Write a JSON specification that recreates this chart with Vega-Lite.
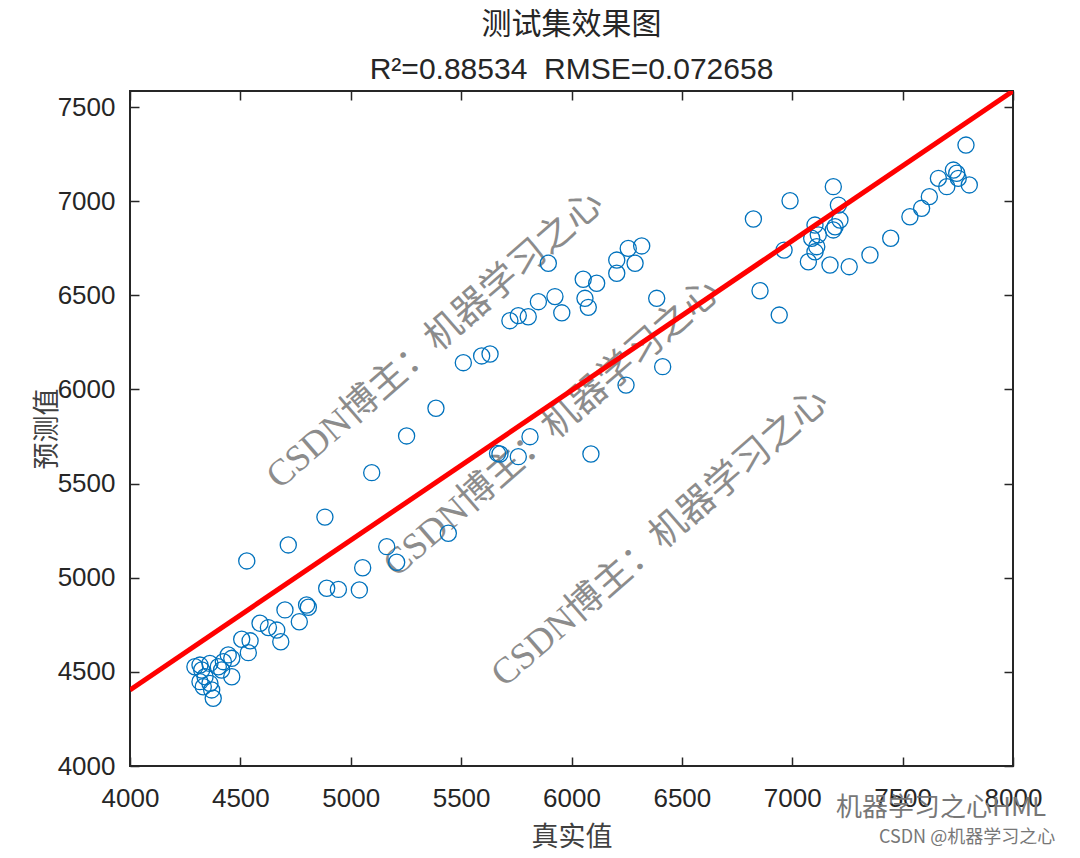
{
  "$schema": "https://vega.github.io/schema/vega-lite/v6.json",
  "width": 883,
  "height": 675,
  "autosize": {"type": "none"},
  "padding": {"left": 130, "top": 91, "right": 67, "bottom": 92},
  "background": "white",
  "title": {
    "text": "测试集效果图",
    "subtitle": "R²=0.88534\u00a0\u00a0RMSE=0.072658",
    "font": "Noto Sans CJK SC",
    "fontSize": 30,
    "fontWeight": "normal",
    "color": "#262626",
    "subtitleFont": "Liberation Sans",
    "subtitleFontSize": 30,
    "subtitleColor": "#262626",
    "subtitlePadding": 15,
    "offset": 5,
    "anchor": "middle"
  },
  "config": {
    "view": {"stroke": "#262626", "strokeWidth": 2},
    "axis": {
      "domain": false,
      "grid": false,
      "ticks": true,
      "tickSize": 9,
      "offset": -9,
      "tickWidth": 1.5,
      "tickColor": "#262626",
      "labelFlush": false,
      "labelOverlap": false,
      "labelFont": "Liberation Sans",
      "labelFontSize": 26,
      "labelColor": "#262626",
      "titleFont": "Noto Sans CJK SC",
      "titleFontSize": 27,
      "titleFontWeight": "normal",
      "titleColor": "#404040"
    }
  },
  "datasets": {
    "points": [
      {"actual": 7787, "pred": 7298}, {"actual": 7730, "pred": 7165}, {"actual": 7745, "pred": 7148},
      {"actual": 7752, "pred": 7121}, {"actual": 7662, "pred": 7121}, {"actual": 7700, "pred": 7077},
      {"actual": 7802, "pred": 7086}, {"actual": 7621, "pred": 7024}, {"actual": 7586, "pred": 6962},
      {"actual": 7533, "pred": 6917}, {"actual": 7446, "pred": 6803}, {"actual": 7352, "pred": 6714},
      {"actual": 7258, "pred": 6652}, {"actual": 7171, "pred": 6661}, {"actual": 7073, "pred": 6678},
      {"actual": 7103, "pred": 6731}, {"actual": 7111, "pred": 6758}, {"actual": 7088, "pred": 6803},
      {"actual": 7118, "pred": 6821}, {"actual": 7103, "pred": 6873}, {"actual": 7186, "pred": 6847},
      {"actual": 7194, "pred": 6864}, {"actual": 7216, "pred": 6900}, {"actual": 7209, "pred": 6979},
      {"actual": 7186, "pred": 7077}, {"actual": 6990, "pred": 7002}, {"actual": 6824, "pred": 6905},
      {"actual": 6963, "pred": 6740}, {"actual": 6854, "pred": 6524}, {"actual": 6941, "pred": 6395},
      {"actual": 5895, "pred": 6670}, {"actual": 6318, "pred": 6762}, {"actual": 6257, "pred": 6749},
      {"actual": 6205, "pred": 6687}, {"actual": 6288, "pred": 6670}, {"actual": 6053, "pred": 6585},
      {"actual": 6114, "pred": 6564}, {"actual": 6205, "pred": 6617}, {"actual": 5850, "pred": 6466},
      {"actual": 5925, "pred": 6493}, {"actual": 5956, "pred": 6407}, {"actual": 6061, "pred": 6484},
      {"actual": 6076, "pred": 6436}, {"actual": 5721, "pred": 6365}, {"actual": 5759, "pred": 6392},
      {"actual": 5804, "pred": 6386}, {"actual": 5510, "pred": 6142}, {"actual": 5593, "pred": 6178},
      {"actual": 5631, "pred": 6188}, {"actual": 5386, "pred": 5900}, {"actual": 5253, "pred": 5753},
      {"actual": 5095, "pred": 5558}, {"actual": 6386, "pred": 6484}, {"actual": 6413, "pred": 6121},
      {"actual": 6247, "pred": 6023}, {"actual": 5812, "pred": 5749}, {"actual": 5676, "pred": 5657},
      {"actual": 5665, "pred": 5660}, {"actual": 5759, "pred": 5643}, {"actual": 6088, "pred": 5657},
      {"actual": 5442, "pred": 5236},
      {"actual": 4529, "pred": 5089}, {"actual": 4717, "pred": 5174}, {"actual": 4883, "pred": 5322},
      {"actual": 5163, "pred": 5165}, {"actual": 5208, "pred": 5082}, {"actual": 5054, "pred": 5053},
      {"actual": 4891, "pred": 4944}, {"actual": 4944, "pred": 4938}, {"actual": 5039, "pred": 4935},
      {"actual": 4702, "pred": 4829}, {"actual": 4800, "pred": 4855}, {"actual": 4808, "pred": 4843},
      {"actual": 4767, "pred": 4766}, {"actual": 4589, "pred": 4758}, {"actual": 4627, "pred": 4735},
      {"actual": 4665, "pred": 4722}, {"actual": 4683, "pred": 4660}, {"actual": 4506, "pred": 4673},
      {"actual": 4544, "pred": 4665}, {"actual": 4536, "pred": 4602}, {"actual": 4445, "pred": 4590},
      {"actual": 4461, "pred": 4572}, {"actual": 4423, "pred": 4554}, {"actual": 4415, "pred": 4510},
      {"actual": 4400, "pred": 4527}, {"actual": 4362, "pred": 4545}, {"actual": 4317, "pred": 4536},
      {"actual": 4325, "pred": 4510}, {"actual": 4294, "pred": 4527}, {"actual": 4340, "pred": 4474},
      {"actual": 4317, "pred": 4448}, {"actual": 4362, "pred": 4439}, {"actual": 4332, "pred": 4421},
      {"actual": 4370, "pred": 4404}, {"actual": 4377, "pred": 4360}, {"actual": 4461, "pred": 4474}
    ],
    "fit": [{"actual": 4000, "pred": 4404}, {"actual": 8000, "pred": 7585}],
    "watermarks": [
      {"actual": 5382, "pred": 6262, "label": "CSDN博主：机器学习之心"},
      {"actual": 5912, "pred": 5795, "label": "CSDN博主：机器学习之心"},
      {"actual": 6401, "pred": 5211, "label": "CSDN博主：机器学习之心"}
    ],
    "credits": [
      {"actual": 7674, "pred": 3777, "label": "机器学习之心HML", "size": 26},
      {"actual": 7792, "pred": 3618, "label": "CSDN @机器学习之心", "size": 18}
    ]
  },
  "layer": [
    {
      "data": {"name": "watermarks"},
      "mark": {"type": "text", "angle": 319, "font": "Liberation Serif, Noto Sans CJK SC", "fontSize": 37, "color": "#8c8c8c", "align": "center", "baseline": "middle"},
      "encoding": {
        "x": {"field": "actual", "type": "quantitative", "scale": {"domain": [4000, 8000], "nice": false, "zero": false}, "axis": null},
        "y": {"field": "pred", "type": "quantitative", "scale": {"domain": [4000, 7585], "nice": false, "zero": false}, "axis": null},
        "text": {"field": "label"}
      }
    },
    {
      "data": {"name": "points"},
      "mark": {"type": "point", "shape": "circle", "filled": false, "size": 260, "strokeWidth": 1.3, "color": "#0072BD", "opacity": 1},
      "encoding": {
        "x": {
          "field": "actual", "type": "quantitative",
          "scale": {"domain": [4000, 8000], "nice": false, "zero": false},
          "axis": {"orient": "bottom", "values": [4000, 4500, 5000, 5500, 6000, 6500, 7000, 7500, 8000], "format": "d", "labelPadding": 19, "title": "真实值", "titleY": 80, "titleBaseline": "middle"}
        },
        "y": {
          "field": "pred", "type": "quantitative",
          "scale": {"domain": [4000, 7585], "nice": false, "zero": false},
          "axis": {"orient": "left", "values": [4000, 4500, 5000, 5500, 6000, 6500, 7000, 7500], "format": "d", "labelPadding": 15, "title": "预测值", "titleX": -92, "titleBaseline": "middle"}
        }
      }
    },
    {
      "data": {"name": "fit"},
      "mark": {"type": "line", "color": "#ff0000", "strokeWidth": 5, "clip": true},
      "encoding": {
        "x": {
          "field": "actual", "type": "quantitative",
          "scale": {"domain": [4000, 8000], "nice": false, "zero": false},
          "axis": {"orient": "top", "values": [4000, 4500, 5000, 5500, 6000, 6500, 7000, 7500, 8000], "labels": false, "title": null}
        },
        "y": {
          "field": "pred", "type": "quantitative",
          "scale": {"domain": [4000, 7585], "nice": false, "zero": false},
          "axis": {"orient": "right", "values": [4000, 4500, 5000, 5500, 6000, 6500, 7000, 7500], "labels": false, "title": null}
        }
      }
    },
    {
      "data": {"name": "credits"},
      "mark": {"type": "text", "font": "Noto Sans CJK SC", "color": "#777777", "align": "center", "baseline": "middle", "clip": false},
      "encoding": {
        "x": {"field": "actual", "type": "quantitative", "axis": null},
        "y": {"field": "pred", "type": "quantitative", "axis": null},
        "text": {"field": "label"},
        "size": {"field": "size", "type": "quantitative", "scale": null}
      }
    }
  ]
}
